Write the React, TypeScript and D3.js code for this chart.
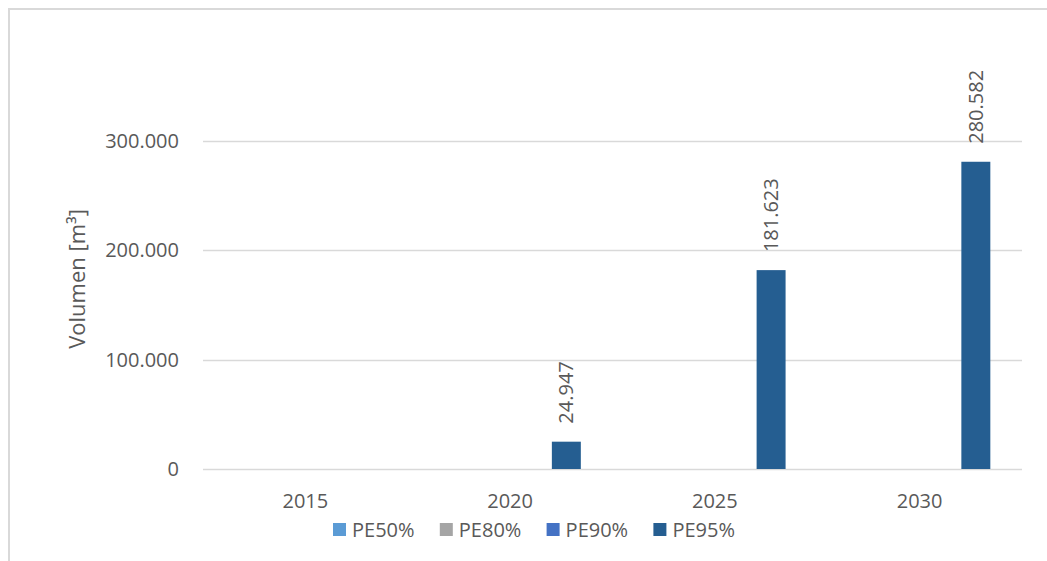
import * as React from 'react';
import {useEffect, useRef} from 'react';
import * as d3 from 'd3';

const years = ['2015', '2020', '2025', '2030'];
const seriesNames = ['PE50%', 'PE80%', 'PE90%', 'PE95%'];
const seriesColors = ['#5B9BD5', '#A5A5A5', '#4472C4', '#255E91'];
const pe50 = [0, 0, 0, 0];
const pe80 = [0, 0, 0, 0];
const pe90 = [0, 0, 0, 0];
const pe95 = [0, 24947, 181623, 280582];
const yTicks = [0, 100000, 200000, 300000];

const W = 1047;
const H = 561;
const FONT = '"Open Sans", sans-serif';
const TEXT = '#595959';

const fmt = (v: number) => d3.format(',d')(v).replace(/,/g, '.');

export default function App() {
  const ref = useRef<SVGSVGElement>(null);

  useEffect(() => {
    const svg = d3.select(ref.current);
    svg.selectAll('*').remove();

    const plot = {left: 203, right: 1022, top: 31, bottom: 469};
    const values = [pe50, pe80, pe90, pe95];

    const x = d3.scaleBand<string>().domain(years).range([plot.left, plot.right]).padding(0);
    const y = d3.scaleLinear().domain([0, 400000]).range([plot.bottom, plot.bottom - 438]);

    // chart frame
    svg.append('path')
      .attr('d', `M9,${H + 5} V9 H${W + 5}`)
      .attr('fill', 'none')
      .attr('stroke', '#D9D9D9')
      .attr('stroke-width', 2);

    // gridlines
    svg.append('g')
      .selectAll('line')
      .data(yTicks)
      .join('line')
      .attr('x1', plot.left)
      .attr('x2', plot.right)
      .attr('y1', d => Math.round(y(d)) + 0.5)
      .attr('y2', d => Math.round(y(d)) + 0.5)
      .attr('stroke', '#D9D9D9')
      .attr('stroke-width', 1.3);

    // y tick labels
    svg.append('g')
      .selectAll('text')
      .data(yTicks)
      .join('text')
      .attr('x', 179)
      .attr('y', d => y(d) + 7)
      .attr('text-anchor', 'end')
      .attr('fill', TEXT)
      .style('font', `20px ${FONT}`)
      .text(d => fmt(d));

    // axis title
    svg.append('text')
      .attr('transform', `translate(85,279) rotate(-90)`)
      .attr('text-anchor', 'middle')
      .attr('fill', TEXT)
      .style('font', `22px ${FONT}`)
      .text('Volumen [m³]');

    // x labels
    svg.append('g')
      .selectAll('text')
      .data(years)
      .join('text')
      .attr('x', d => (x(d) as number) + x.bandwidth() / 2)
      .attr('y', 508)
      .attr('text-anchor', 'middle')
      .attr('fill', TEXT)
      .style('font', `20px ${FONT}`)
      .text(d => d);

    // bars
    const bw = x.bandwidth();
    const x1 = d3.scaleBand<string>()
      .domain(seriesNames)
      .range([bw / 2 - bw * 0.366, bw / 2 + bw * 0.366])
      .paddingInner(0.227)
      .paddingOuter(0.113);

    const bars = seriesNames.flatMap((s, si) =>
      years.map((yr, i) => ({s, si, yr, v: values[si][i]})));

    const g = svg.append('g');
    g.selectAll('rect')
      .data(bars.filter(d => d.v > 0))
      .join('rect')
      .attr('x', d => (x(d.yr) as number) + (x1(d.s) as number))
      .attr('width', x1.bandwidth())
      .attr('y', d => y(d.v))
      .attr('height', d => y(0) - y(d.v))
      .attr('fill', d => seriesColors[d.si]);

    g.selectAll('text')
      .data(bars.filter(d => d.v > 0))
      .join('text')
      .attr('transform', d => {
        const cx = (x(d.yr) as number) + (x1(d.s) as number) + x1.bandwidth() / 2;
        return `translate(${cx + 7},${y(d.v) - 18}) rotate(-90)`;
      })
      .attr('fill', TEXT)
      .style('font', `20px ${FONT}`)
      .text(d => fmt(d.v));

    // legend
    const leg = svg.append('g')
      .selectAll('g')
      .data(seriesNames)
      .join('g')
      .attr('transform', (d, i) => `translate(${333 + i * 106.8},523)`);
    leg.append('rect')
      .attr('width', 13)
      .attr('height', 13)
      .attr('fill', (d, i) => seriesColors[i]);
    leg.append('text')
      .attr('x', 19)
      .attr('y', 14)
      .attr('fill', TEXT)
      .style('font', `20px ${FONT}`)
      .text(d => d);
  }, []);

  return (
    <svg ref={ref} width={W} height={H}
      style={{position: 'absolute', left: 0, top: 0, background: '#fff'}}/>
  );
}
